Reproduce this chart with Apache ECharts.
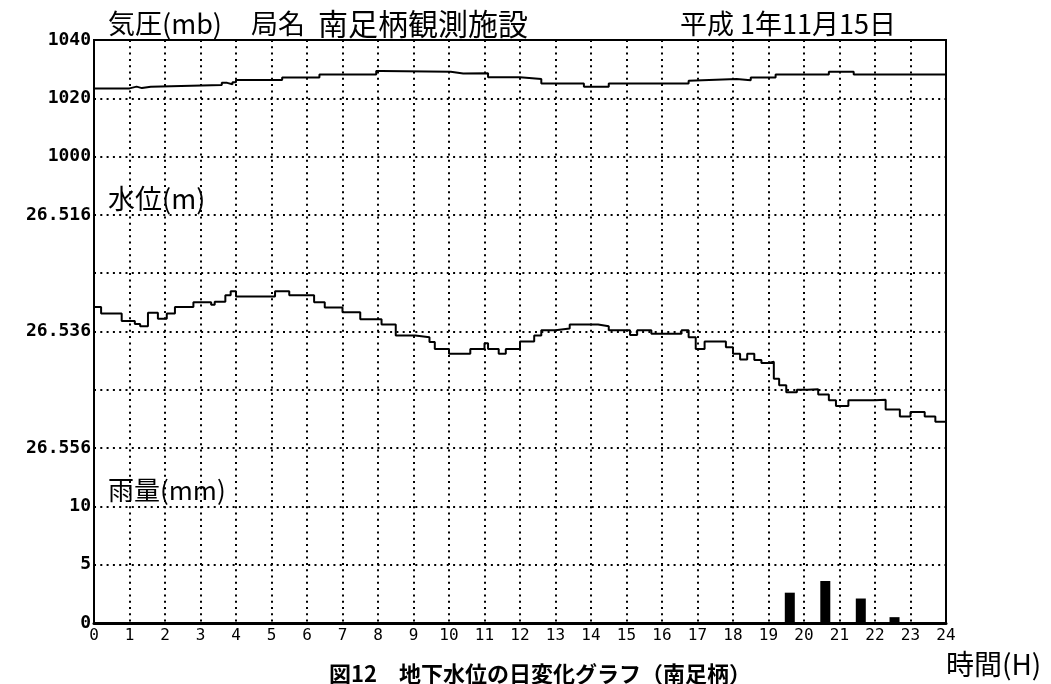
<!DOCTYPE html>
<html>
<head>
<meta charset="utf-8">
<script src="https://cdn.jsdelivr.net/npm/echarts@6/dist/echarts.min.js"></script>
<style>
html,body{margin:0;padding:0;background:#fff;}
#chart{width:1051px;height:684px;}
</style>
</head>
<body>
<div id="chart"></div>
<script>
// ---- data ----
const hourTicks = [0,1,2,3,4,5,6,7,8,9,10,11,12,13,14,15,16,17,18,19,20,21,22,23,24];
const pressureLabels = [1000, 1020, 1040];
const waterLabels = [26.516, 26.536, 26.556];
const rainLabels = [0, 5, 10];

// pressure (mb), step segments: start hour -> value
const pressureHours  = [0, 1.0, 1.2, 1.35, 1.6, 3.6, 3.75, 3.9, 4.0, 5.3, 6.35, 7.95, 8.1, 10.05, 10.4, 11.1, 12.0, 12.6, 13.8, 14.5, 15.7, 16.75, 16.8, 18.1, 18.5, 19.2, 20.7, 21.4, 24];
const pressureValues = [1023.4, 1024.0, 1023.5, 1024.0, 1024.6, 1025.3, 1024.8, 1025.5, 1026.3, 1027.1, 1028.2, 1029.4, 1029.1, 1028.5, 1028.6, 1027.2, 1026.6, 1025.1, 1024.0, 1025.1, 1025.1, 1026.0, 1026.6, 1026.2, 1027.1, 1028.2, 1029.1, 1028.2, 1028.2];

// ground water level (m)
const waterHours  = [0, 0.2, 0.78, 1.15, 1.3, 1.52, 1.8, 2.05, 2.28, 2.8, 3.3, 3.4, 3.7, 3.85, 4.0, 5.1, 5.5, 6.2, 6.5, 7.0, 7.5, 8.1, 8.5, 9.05, 9.45, 9.6, 10.0, 10.6, 11.0, 11.1, 11.4, 11.6, 12.0, 12.4, 12.6, 13.0, 13.4, 14.2, 14.5, 15.1, 15.3, 15.7, 16.4, 16.55, 16.75, 16.95, 17.2, 17.8, 18.0, 18.2, 18.4, 18.6, 18.8, 19.0, 19.15, 19.3, 19.5, 19.8, 20.1, 20.4, 20.7, 20.9, 21.25, 22.0, 22.3, 22.7, 23.0, 23.4, 23.7, 24];
const waterValues = [26.5318, 26.5329, 26.5342, 26.5347, 26.5351, 26.5328, 26.5338, 26.5329, 26.5318, 26.5310, 26.5314, 26.5309, 26.5298, 26.5291, 26.5300, 26.5291, 26.5298, 26.5310, 26.5319, 26.5327, 26.5339, 26.5348, 26.5367, 26.5370, 26.5378, 26.5390, 26.5398, 26.5390, 26.5380, 26.5390, 26.5398, 26.5390, 26.5377, 26.5367, 26.5358, 26.5355, 26.5348, 26.5351, 26.5358, 26.5366, 26.5358, 26.5364, 26.5364, 26.5358, 26.5370, 26.5390, 26.5377, 26.5387, 26.5398, 26.5408, 26.5398, 26.5409, 26.5414, 26.5412, 26.5441, 26.5452, 26.5464, 26.5460, 26.5459, 26.5468, 26.5478, 26.5488, 26.5478, 26.5477, 26.5494, 26.5506, 26.5498, 26.5506, 26.5515, 26.5515];

// rainfall (mm)
const rainHours  = [19.6, 20.6, 21.6, 22.55];
const rainValues = [2.6, 3.6, 2.1, 0.5];

// ---- chart ----
const zip = (a, b) => a.map((x, i) => [x, b[i]]);
const near = (v, arr) => arr.some(t => Math.abs(v - t) < 1e-6);
const monoBold = {fontFamily: 'DejaVu Sans Mono', fontWeight: 'bold', fontSize: 18, color: '#000'};
const dotted = {color: '#000', width: 2, type: [2, 4.3]};

const chart = echarts.init(document.getElementById('chart'), null, {renderer: 'canvas'});
chart.setOption({
  animation: false,
  backgroundColor: '#fff',
  grid: {left: 94, top: 40, right: 105, bottom: 61, show: true, borderColor: '#000', borderWidth: 2, backgroundColor: 'transparent'},
  xAxis: {
    type: 'value', min: 0, max: 24, interval: 1,
    axisLine: {show: true, lineStyle: {color: '#000', width: 3}},
    axisTick: {show: false},
    axisLabel: {fontFamily: 'DejaVu Sans Mono', fontSize: 16, color: '#000', margin: 5,
      formatter: v => hourTicks.includes(v) ? String(v) : ''},
    splitLine: {show: true, lineStyle: dotted}
  },
  yAxis: [
    {
      type: 'value', min: 840, max: 1040, interval: 20, position: 'left',
      axisLine: {show: true, lineStyle: {color: '#000', width: 2}},
      axisTick: {show: false},
      axisLabel: Object.assign({margin: 3, formatter: v => near(v, pressureLabels) ? String(v) : ''}, monoBold),
      splitLine: {show: true, lineStyle: dotted}
    },
    {
      type: 'value', min: 26.486, max: 26.586, interval: 0.01, inverse: true, position: 'left',
      axisLine: {show: false}, axisTick: {show: false},
      axisLabel: Object.assign({margin: 3, formatter: v => near(v, waterLabels) ? v.toFixed(3) : ''}, monoBold),
      splitLine: {show: false}
    },
    {
      type: 'value', min: 0, max: 50, interval: 5, position: 'left',
      axisLine: {show: false}, axisTick: {show: false},
      axisLabel: Object.assign({margin: 3, formatter: v => near(v, rainLabels) ? String(v) : ''}, monoBold),
      splitLine: {show: false}
    }
  ],
  series: [
    {type: 'line', name: '気圧', yAxisIndex: 0, step: 'end', showSymbol: false, data: zip(pressureHours, pressureValues),
      lineStyle: {color: '#000', width: 2}, itemStyle: {color: '#000'}},
    {type: 'line', name: '水位', yAxisIndex: 1, step: 'end', showSymbol: false, data: zip(waterHours, waterValues),
      lineStyle: {color: '#000', width: 2}, itemStyle: {color: '#000'}},
    {type: 'bar', name: '雨量', yAxisIndex: 2, barWidth: 10, data: zip(rainHours, rainValues),
      itemStyle: {color: '#000'}}
  ],
  graphic: [
    {type: 'text', x: 108, y: 24, style: {text: '気圧(mb)', font: '27px "Noto Sans CJK JP"', fill: '#000', textVerticalAlign: 'middle'}},
    {type: 'text', x: 251, y: 24, style: {text: '局名', font: '27px "Noto Sans CJK JP"', fill: '#000', textVerticalAlign: 'middle'}},
    {type: 'text', x: 318, y: 24, style: {text: '南足柄観測施設', font: '30px "Noto Sans CJK JP"', fill: '#000', textVerticalAlign: 'middle'}},
    {type: 'text', x: 680, y: 24, style: {text: '平成 1年11月15日', font: '27px "Noto Sans CJK JP"', fill: '#000', textVerticalAlign: 'middle'}},
    {type: 'text', x: 108, y: 199, style: {text: '水位(m)', font: '27px "Noto Sans CJK JP"', fill: '#000', textVerticalAlign: 'middle'}},
    {type: 'text', x: 108, y: 490, style: {text: '雨量(mm)', font: '26px "Noto Sans CJK JP"', fill: '#000', textVerticalAlign: 'middle'}},
    {type: 'text', x: 946, y: 664, style: {text: '時間(H)', font: '28px "Noto Sans CJK JP"', fill: '#000', textVerticalAlign: 'middle'}},
    {type: 'text', x: 540, y: 674, style: {text: '図12　地下水位の日変化グラフ（南足柄）', font: 'bold 22px "Noto Sans CJK JP"', fill: '#000', textAlign: 'center', textVerticalAlign: 'middle'}}
  ]
});
</script>
</body>
</html>
